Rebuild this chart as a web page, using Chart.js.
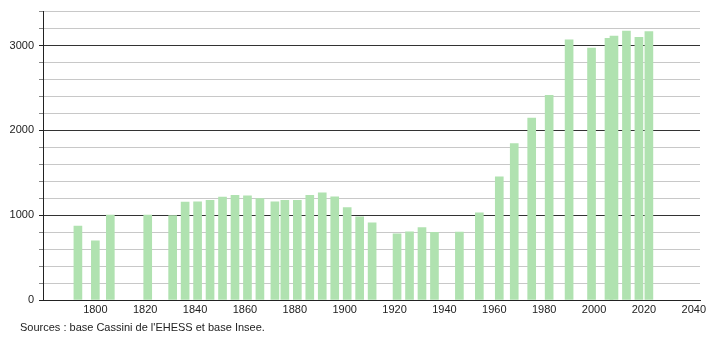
<!DOCTYPE html>
<html>
<head>
<meta charset="utf-8">
<script src="https://cdn.jsdelivr.net/npm/chart.js@4"></script>
<style>
  body { margin: 0; background: #fff; }
  #wrap { position: relative; width: 710px; height: 340px; }
  #source { position: absolute; left: 20px; top: 321px; font: 11px "Liberation Sans", Arial, sans-serif; color: #222; }
</style>
</head>
<body>
<div id="wrap">
  <canvas id="myChart" width="710" height="340"></canvas>
  <div id="source">Sources : base Cassini de l'EHESS et base Insee.</div>
</div>
<script>
// annees de recensement et population
var annees = [1793, 1800, 1806, 1821, 1831, 1836, 1841, 1846, 1851, 1856, 1861, 1866, 1872, 1876, 1881, 1886, 1891, 1896, 1901, 1906, 1911, 1921, 1926, 1931, 1936, 1946, 1954, 1962, 1968, 1975, 1982, 1990, 1999, 2006, 2008, 2013, 2018, 2022];
var population = [870, 698, 1000, 1000, 995, 1153, 1157, 1176, 1213, 1235, 1227, 1196, 1157, 1176, 1176, 1235, 1263, 1216, 1090, 980, 910, 780, 804, 853, 798, 800, 1027, 1451, 1843, 2145, 2412, 3067, 2969, 3086, 3110, 3169, 3098, 3165];
var xTicks = [1800, 1820, 1840, 1860, 1880, 1900, 1920, 1940, 1960, 1980, 2000, 2020, 2040];

var points = annees.map(function(a, i) { return {x: a, y: population[i]}; });

var ctx = document.getElementById('myChart').getContext('2d');
var myChart = new Chart(ctx, {
    type: 'bar',
    data: {
        datasets: [{
            label: 'Population',
            data: points,
            backgroundColor: 'rgb(176, 226, 176)',
            barThickness: 8
        }]
    },
    options: {
        responsive: false,
        animation: false,
        layout: {padding: {top: 10, right: 10, left: 0, bottom: 0}},
        plugins: {legend: {display: false}, tooltip: {enabled: false}},
        font: {family: '"Liberation Sans", Arial, sans-serif'},
        scales: {
            x: {
                type: 'linear',
                offset: false,
                min: 1779,
                max: 2042.5,
                afterBuildTicks: function(scale) {
                    scale.ticks = xTicks.map(function(v) { return {value: v}; });
                },
                afterFit: function(scale) { scale.height = 40; },
                grid: {display: false, drawTicks: false, offset: false},
                border: {color: '#222', width: 1},
                ticks: {
                    color: '#222',
                    padding: 3,
                    maxRotation: 0,
                    autoSkip: false,
                    font: {size: 11, family: '"Liberation Sans", Arial, sans-serif'},
                    callback: function(v) { return String(v); }
                }
            },
            y: {
                min: 0,
                max: 3400,
                afterFit: function(scale) { scale.width = 43; },
                ticks: {
                    stepSize: 200,
                    color: '#222',
                    padding: 5,
                    font: {size: 11, family: '"Liberation Sans", Arial, sans-serif'},
                    callback: function(v) { return v % 1000 == 0 ? String(v) : ''; }
                },
                grid: {
                    tickLength: 4,
                    color: function(c) { return (c.tick.value % 1000 == 0) ? '#333' : '#c8c8c8'; },
                    tickColor: function(c) { return (c.tick.value % 1000 == 0) ? '#222' : '#888'; }
                },
                border: {color: '#222', width: 1}
            }
        }
    }
});
</script>
</body>
</html>
